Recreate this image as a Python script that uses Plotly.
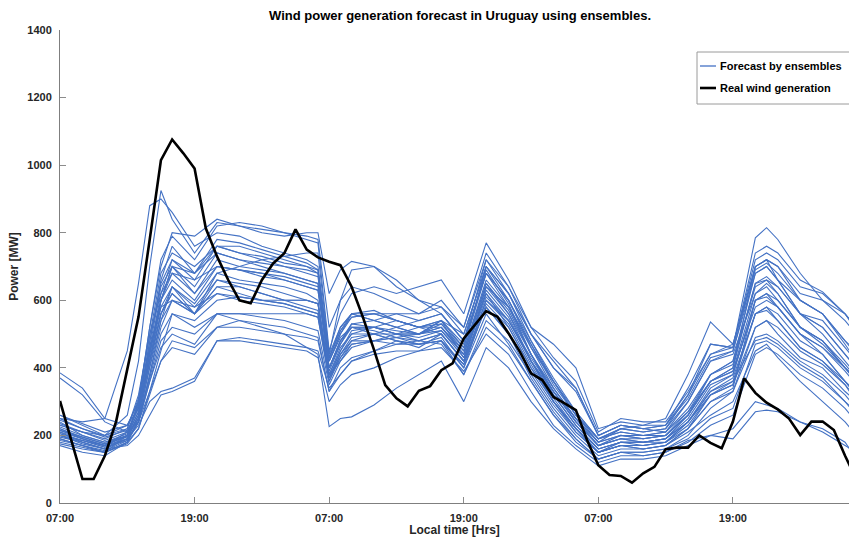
import plotly.graph_objects as go

# ---------------- data ----------------
real_hours = list(range(0, 72))
real_generation = [302, 186, 71, 71, 140, 241, 395, 551, 780, 1015, 1076, 1035, 990, 813, 730, 660,
                   600, 591, 660, 709, 739, 810, 750, 727, 714, 704, 640, 551, 453, 349, 310, 286,
                   332, 346, 393, 413, 487, 527, 568, 551, 502, 448, 384, 364, 314, 295, 275, 186,
                   112, 83, 80, 60, 88, 107, 159, 164, 164, 200, 178, 162, 241, 369, 326, 297,
                   277, 250, 201, 241, 241, 216, 140, 70]

ens_hours = [0, 2, 4, 6, 7, 8, 9, 10, 12, 14, 16, 18, 20, 22, 23, 24, 25, 26, 28, 30, 32, 34, 36,
             38, 40, 42, 44, 46, 48, 50, 52, 54, 56, 58, 60, 62, 63, 64, 66, 68, 70, 71]

ens_01 = [250,240,250,450,650,880,900,860,760,800,790,760,740,720,700,430,520,560,540,520,500,520,440,650,560,420,330,250,170,200,190,200,260,360,400,700,720,660,560,500,420,380]
ens_02 = [230,210,200,260,420,700,925,840,740,830,820,810,800,790,780,520,600,640,620,590,560,600,520,740,640,500,400,330,200,230,220,210,300,420,450,680,700,660,600,560,480,450]
ens_03 = [385,340,250,230,280,420,560,620,560,680,660,650,640,620,600,380,450,500,520,540,520,540,430,620,520,400,300,220,150,170,170,180,220,300,340,600,620,580,500,440,360,330]
ens_04 = [370,320,240,210,240,330,420,460,440,520,540,530,520,500,490,330,400,430,450,480,470,480,400,560,470,360,260,190,130,150,150,160,200,280,330,520,540,500,430,400,330,300]
ens_05 = [175,160,150,200,300,520,720,790,720,820,830,820,800,780,770,450,560,620,640,620,640,660,560,770,660,520,470,400,220,240,230,230,320,440,470,700,720,700,620,600,540,500]
ens_06 = [220,190,170,210,280,460,640,700,620,720,700,690,680,660,650,400,480,520,500,480,460,500,420,640,580,470,350,260,180,220,210,220,320,470,460,785,815,780,680,600,560,520]
ens_07 = [200,180,160,170,200,260,320,330,360,480,480,470,460,450,430,300,350,380,400,430,450,480,380,540,480,380,280,200,140,160,160,170,210,260,300,450,470,430,360,300,240,200]
ens_08 = [190,170,150,180,220,330,450,560,520,560,540,520,500,460,440,226,250,255,290,340,380,420,300,460,400,300,220,160,110,130,130,140,170,200,220,300,290,280,240,210,170,150]
ens_09 = [210,180,160,200,300,520,700,800,790,840,820,800,790,800,800,620,690,715,700,660,600,580,520,720,620,480,360,260,190,210,200,210,280,380,420,680,700,660,560,540,460,420]
ens_10 = [240,200,180,200,260,420,600,700,640,740,720,700,680,660,650,420,500,560,560,540,520,540,460,700,600,460,340,250,180,200,190,200,260,360,400,650,670,640,560,520,440,400]
ens_11 = [170,150,140,180,240,380,540,640,560,660,640,620,600,600,590,360,430,480,500,520,540,560,480,680,600,480,370,270,190,220,210,220,300,420,440,620,650,620,520,470,400,360]
ens_12 = [260,230,200,230,300,460,580,600,580,620,610,600,590,570,560,380,420,460,480,500,520,500,420,600,540,420,320,230,160,180,180,190,240,330,360,560,580,560,480,440,360,320]
ens_13 = [195,180,160,190,230,300,330,340,370,480,490,480,470,460,450,340,380,420,450,470,480,470,380,520,460,360,260,180,130,150,140,150,180,230,260,440,460,440,380,340,280,240]
ens_14 = [215,190,170,200,290,480,660,760,680,780,770,750,730,710,690,440,520,560,540,520,500,540,470,690,590,440,330,240,170,190,180,190,260,380,410,650,660,620,520,480,400,370]
ens_15 = [230,210,190,220,320,500,620,680,660,700,690,680,670,650,640,400,480,530,520,500,500,540,500,700,620,500,420,340,200,230,220,230,340,470,460,720,740,720,640,620,560,520]
ens_16 = [185,170,150,180,250,400,560,620,560,640,640,620,600,580,570,370,450,510,520,500,490,510,440,620,540,420,300,220,150,170,160,170,220,320,350,560,580,540,460,420,350,300]
ens_17 = [250,220,200,220,310,500,680,740,700,760,740,720,700,690,680,420,500,550,560,560,540,560,480,720,640,520,430,360,210,250,240,240,330,440,460,740,760,740,660,625,560,510]
ens_18 = [205,185,165,190,260,440,600,680,620,700,690,670,660,640,630,400,470,520,520,510,500,530,450,660,580,460,360,260,190,220,230,250,380,536,470,690,710,680,600,560,470,420]
ens_19 = [220,195,175,200,270,450,620,720,660,760,740,730,710,700,690,430,510,560,570,540,520,530,460,680,580,440,320,230,160,180,180,190,250,350,380,600,610,580,500,460,390,350]
ens_20 = [200,175,160,190,240,360,480,520,500,560,560,550,540,520,510,350,420,470,480,490,480,500,420,580,500,370,270,190,130,150,150,160,190,250,280,470,480,460,400,360,300,260]
ens_21 = [180,165,150,175,220,320,420,480,460,520,520,510,500,490,480,330,380,420,440,450,450,460,390,500,440,330,230,170,120,140,140,150,185,200,190,270,275,270,240,220,180,130]
ens_22 = [235,210,185,210,290,480,650,720,680,740,720,710,700,680,670,430,510,550,560,540,520,520,450,650,570,440,330,240,170,190,190,200,270,380,420,640,660,640,560,520,440,400]
ens_23 = [210,190,170,190,260,420,560,640,590,680,700,720,730,740,740,440,600,690,700,640,600,560,480,680,600,470,360,270,190,210,200,210,270,360,390,620,640,600,520,480,400,370]
ens_24 = [190,170,155,185,240,380,520,600,560,620,600,590,580,560,550,360,440,490,500,500,500,510,430,610,540,430,330,240,170,190,180,190,240,330,370,560,570,540,460,420,360,320]
ens_25 = [245,220,195,215,280,440,600,660,600,700,690,680,660,640,630,400,480,520,520,500,480,500,420,630,550,420,310,220,150,180,170,180,230,320,360,480,490,470,410,370,300,270]
ens_26 = [225,200,180,205,270,430,580,640,580,660,650,640,620,600,590,380,460,500,500,480,470,490,400,590,520,400,300,210,150,170,160,170,220,300,330,490,500,480,420,380,320,280]
ens_27 = [200,185,170,200,250,370,500,560,540,600,610,600,600,600,590,390,470,530,540,560,560,580,500,700,620,500,400,340,200,230,220,230,310,430,450,700,720,700,600,560,480,440]
ens_28 = [260,235,210,230,300,450,600,700,680,760,760,740,720,700,680,420,490,520,510,490,470,480,410,580,500,390,290,210,150,170,170,180,240,340,380,600,620,600,520,480,410,370]
ens_29 = [205,185,165,185,240,360,460,500,470,560,560,560,560,560,550,370,430,470,480,490,500,520,440,640,560,440,340,250,180,200,200,200,260,360,390,580,600,580,500,460,400,360]
ens_30 = [215,195,175,195,250,400,540,600,560,640,620,600,590,570,560,370,440,480,480,470,470,480,410,600,530,410,300,220,160,180,180,180,240,320,350,520,540,520,450,410,350,310]

ensemble_members = [ens_01, ens_02, ens_03, ens_04, ens_05, ens_06, ens_07, ens_08, ens_09, ens_10,
                    ens_11, ens_12, ens_13, ens_14, ens_15, ens_16, ens_17, ens_18, ens_19, ens_20,
                    ens_21, ens_22, ens_23, ens_24, ens_25, ens_26, ens_27, ens_28, ens_29, ens_30]

tick_hours = [0, 12, 24, 36, 48, 60]
tick_labels = ["07:00", "19:00", "07:00", "19:00", "07:00", "19:00"]
y_ticks = [0, 200, 400, 600, 800, 1000, 1200, 1400]
legend_labels = ["Forecast by ensembles", "Real wind generation"]

# ---------------- figure ----------------
FONT = "Liberation Sans, Arial, Helvetica, sans-serif"
BLUE = "#4472C4"
W, H = 849, 537
ML, MR, MT, MB = 60, 0, 30, 34
PW, PH = W - ML - MR, H - MT - MB


def px(x):
    return (x - ML) / PW


def py(y):
    return (H - MB - y) / PH


fig = go.Figure()
for i, member in enumerate(ensemble_members):
    fig.add_trace(go.Scatter(
        x=ens_hours, y=member, mode="lines",
        line=dict(color=BLUE, width=1.1),
        name=legend_labels[0], legendgroup="ens",
        showlegend=False, hoverinfo="skip"))

fig.add_trace(go.Scatter(
    x=real_hours, y=real_generation, mode="lines",
    line=dict(color="black", width=2.6),
    name=legend_labels[1], showlegend=False))

# legend drawn as box + sample lines + text (box runs past the right edge as in the reference)
shapes = [
    dict(type="rect", xref="paper", yref="paper", x0=px(697), x1=px(870), y0=py(104), y1=py(52),
         line=dict(color="#9a9a9a", width=1), fillcolor="white", layer="above"),
    dict(type="line", xref="paper", yref="paper", x0=px(700), x1=px(716), y0=py(66), y1=py(66),
         line=dict(color=BLUE, width=1.3), layer="above"),
    dict(type="line", xref="paper", yref="paper", x0=px(700), x1=px(716), y0=py(88), y1=py(88),
         line=dict(color="black", width=2.6), layer="above"),
]
annotations = [
    dict(text="<b>%s</b>" % legend_labels[0], xref="paper", yref="paper", x=px(718), y=py(66),
         xanchor="left", yanchor="middle", showarrow=False,
         font=dict(family=FONT, size=11, color="#000000")),
    dict(text="<b>%s</b>" % legend_labels[1], xref="paper", yref="paper", x=px(718), y=py(88),
         xanchor="left", yanchor="middle", showarrow=False,
         font=dict(family=FONT, size=11, color="#000000")),
]

fig.update_layout(
    width=W, height=H,
    margin=dict(l=ML, r=MR, t=MT, b=MB, autoexpand=False),
    paper_bgcolor="white", plot_bgcolor="white",
    showlegend=False,
    shapes=shapes, annotations=annotations,
    font=dict(family=FONT, size=11, color="#262626"),
    title=dict(text="<b>Wind power generation forecast in Uruguay using ensembles.</b>",
               x=0.507, xref="paper", xanchor="center", y=0.972, yanchor="middle",
               font=dict(family=FONT, size=13, color="#000000")),
    xaxis=dict(range=[0, 70.35], tickmode="array", tickvals=tick_hours, ticktext=tick_labels,
               ticks="inside", ticklen=6, tickcolor="#8c8c8c", showgrid=False, zeroline=False,
               showline=True, linecolor="#7f7f7f", linewidth=1, ticklabelstandoff=5,
               tickfont=dict(family=FONT, size=11, color="#262626", weight="bold"),
               title=dict(text="<b>Local time [Hrs]</b>", standoff=0,
                          font=dict(family=FONT, size=12, color="#262626"))),
    yaxis=dict(range=[0, 1400], tickmode="array", tickvals=y_ticks,
               ticks="inside", ticklen=6, tickcolor="#8c8c8c", showgrid=False, zeroline=False,
               showline=True, linecolor="#7f7f7f", linewidth=1, ticklabelstandoff=5,
               tickfont=dict(family=FONT, size=11, color="#262626", weight="bold"),
               title=dict(text="<b>Power [MW]</b>", standoff=6,
                          font=dict(family=FONT, size=12, color="#262626"))),
)

fig.write_html("out.html", config={"displayModeBar": False},
               post_script="document.body.style.margin='0';")
